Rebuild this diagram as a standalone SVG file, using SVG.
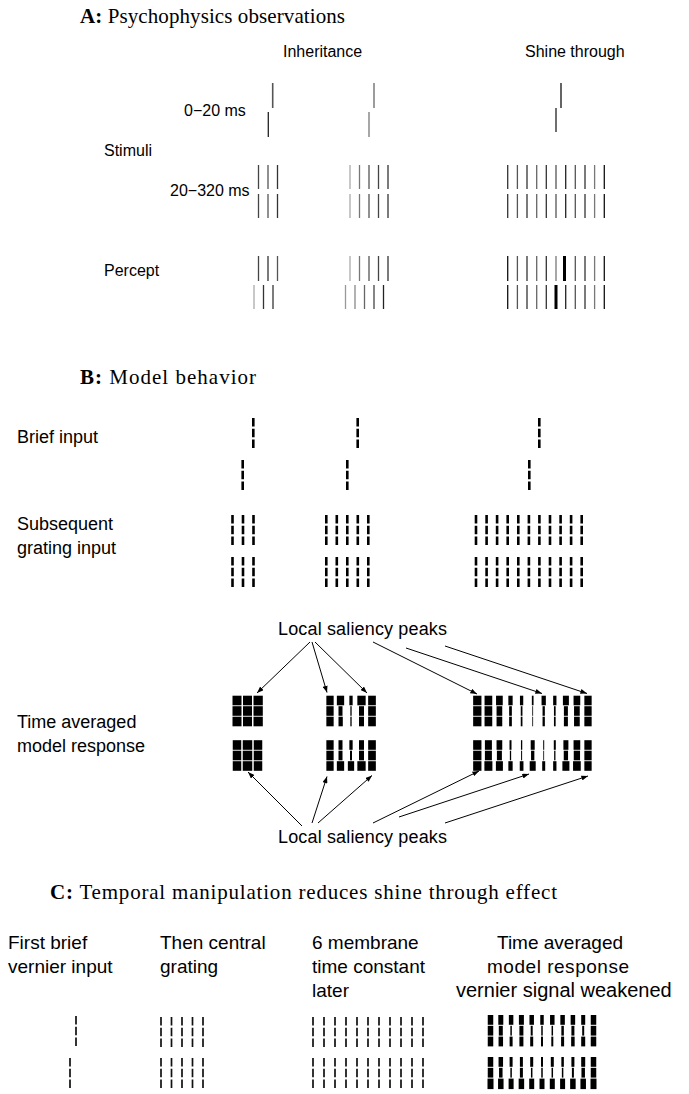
<svg xmlns="http://www.w3.org/2000/svg" xmlns:xlink="http://www.w3.org/1999/xlink" width="689" height="1094" viewBox="0 0 689 1094">
<style>
.serif{font-family:"Liberation Serif","Times New Roman",serif;font-size:21px;fill:#000}
.sa{font-family:"Liberation Sans",Arial,sans-serif;font-size:16px;fill:#000}
.sb{font-family:"Liberation Sans",Arial,sans-serif;font-size:18px;fill:#000}
.sc{font-family:"Liberation Sans",Arial,sans-serif;font-size:19px;fill:#000}
.ln{stroke-width:1.3;fill:none}
.db{stroke:#000;stroke-width:2.6;stroke-dasharray:8.6 2.1}
.dc{stroke:#111;stroke-width:1.7;stroke-dasharray:8.6 2.1}
.k rect{fill:#000}
.arr{stroke:#000;stroke-width:1;fill:none;marker-end:url(#ah)}
</style>
<defs>
<marker id="ah" viewBox="0 0 8 6" refX="8" refY="3" markerWidth="7" markerHeight="5" markerUnits="userSpaceOnUse" orient="auto"><path d="M0,0 L8,3 L0,6 z" fill="#000"/></marker>
<line id="db" x1="0" y1="0" x2="0" y2="30" class="db"/>
<line id="dc" x1="0" y1="0" x2="0" y2="30" class="dc"/>
</defs>
<rect width="689" height="1094" fill="#fff"/>

<!-- Section A -->
<g id="title-a"><text class="serif" x="80" y="23" textLength="265"><tspan font-weight="bold">A:</tspan> Psychophysics observations</text></g>
<g id="label-inheritance"><text class="sa" x="283" y="57">Inheritance</text></g>
<g id="label-shine"><text class="sa" x="525" y="57">Shine through</text></g>
<g id="label-0-20"><text class="sa" x="184" y="116">0−20 ms</text></g>
<g id="label-stimuli"><text class="sa" x="104" y="156">Stimuli</text></g>
<g id="label-20-320"><text class="sa" x="170" y="196">20−320 ms</text></g>
<g id="label-percept"><text class="sa" x="104" y="276">Percept</text></g>

<g id="a-stim-inh1" class="ln">
<line x1="272.7" y1="83" x2="272.7" y2="108" stroke="#555" stroke-width="1.6"/>
<line x1="268.3" y1="112" x2="268.3" y2="137" stroke="#222"/>
<line x1="258.5" y1="165" x2="258.5" y2="189" stroke="#444"/><line x1="268" y1="165" x2="268" y2="189" stroke="#555"/><line x1="277.5" y1="165" x2="277.5" y2="189" stroke="#333"/>
<line x1="258.5" y1="194" x2="258.5" y2="218" stroke="#444"/><line x1="268" y1="194" x2="268" y2="218" stroke="#555"/><line x1="277.5" y1="194" x2="277.5" y2="218" stroke="#333"/>
</g>
<g id="a-stim-inh2" class="ln">
<line x1="374" y1="83" x2="374" y2="108" stroke="#666"/>
<line x1="369" y1="112" x2="369" y2="137" stroke="#777"/>
<line x1="350" y1="165" x2="350" y2="189" stroke="#aaa"/><line x1="359.5" y1="165" x2="359.5" y2="189" stroke="#777"/><line x1="369" y1="165" x2="369" y2="189" stroke="#555"/><line x1="378.5" y1="165" x2="378.5" y2="189" stroke="#444"/><line x1="388" y1="165" x2="388" y2="189" stroke="#333"/>
<line x1="350" y1="194" x2="350" y2="218" stroke="#aaa"/><line x1="359.5" y1="194" x2="359.5" y2="218" stroke="#777"/><line x1="369" y1="194" x2="369" y2="218" stroke="#555"/><line x1="378.5" y1="194" x2="378.5" y2="218" stroke="#444"/><line x1="388" y1="194" x2="388" y2="218" stroke="#333"/>
</g>
<g id="a-stim-shine" class="ln">
<line x1="561" y1="83" x2="561" y2="108" stroke="#111"/>
<line x1="556" y1="108" x2="556" y2="132" stroke="#222"/>
<g stroke="#333">
<line x1="507.7" y1="165" x2="507.7" y2="189"/><line x1="517.4" y1="165" x2="517.4" y2="189" stroke="#555"/><line x1="527" y1="165" x2="527" y2="189"/><line x1="536.7" y1="165" x2="536.7" y2="189" stroke="#666"/><line x1="546.3" y1="165" x2="546.3" y2="189"/><line x1="556" y1="165" x2="556" y2="189" stroke="#555"/><line x1="565.7" y1="165" x2="565.7" y2="189" stroke="#222"/><line x1="575.3" y1="165" x2="575.3" y2="189" stroke="#555"/><line x1="585" y1="165" x2="585" y2="189"/><line x1="594.6" y1="165" x2="594.6" y2="189" stroke="#777"/><line x1="604.3" y1="165" x2="604.3" y2="189" stroke="#111"/>
<line x1="507.7" y1="194" x2="507.7" y2="218"/><line x1="517.4" y1="194" x2="517.4" y2="218" stroke="#555"/><line x1="527" y1="194" x2="527" y2="218"/><line x1="536.7" y1="194" x2="536.7" y2="218" stroke="#666"/><line x1="546.3" y1="194" x2="546.3" y2="218"/><line x1="556" y1="194" x2="556" y2="218" stroke="#555"/><line x1="565.7" y1="194" x2="565.7" y2="218" stroke="#222"/><line x1="575.3" y1="194" x2="575.3" y2="218" stroke="#555"/><line x1="585" y1="194" x2="585" y2="218"/><line x1="594.6" y1="194" x2="594.6" y2="218" stroke="#777"/><line x1="604.3" y1="194" x2="604.3" y2="218" stroke="#111"/>
</g>
</g>

<g id="a-perc-inh1" class="ln">
<line x1="258.5" y1="256" x2="258.5" y2="281" stroke="#444"/><line x1="268" y1="256" x2="268" y2="281" stroke="#333"/><line x1="277.5" y1="256" x2="277.5" y2="281" stroke="#555"/>
<line x1="254" y1="285" x2="254" y2="309" stroke="#aaa"/><line x1="263.5" y1="285" x2="263.5" y2="309" stroke="#333"/><line x1="273" y1="285" x2="273" y2="309" stroke="#666" stroke-width="1.7"/>
</g>
<g id="a-perc-inh2" class="ln">
<line x1="350" y1="256" x2="350" y2="281" stroke="#aaa"/><line x1="359.5" y1="256" x2="359.5" y2="281" stroke="#777"/><line x1="369" y1="256" x2="369" y2="281" stroke="#555"/><line x1="378.5" y1="256" x2="378.5" y2="281" stroke="#444"/><line x1="388" y1="256" x2="388" y2="281" stroke="#333"/>
<line x1="345.5" y1="285" x2="345.5" y2="309" stroke="#999"/><line x1="355" y1="285" x2="355" y2="309" stroke="#888"/><line x1="364.5" y1="285" x2="364.5" y2="309" stroke="#666"/><line x1="374" y1="285" x2="374" y2="309" stroke="#444"/><line x1="383.5" y1="285" x2="383.5" y2="309" stroke="#222"/>
</g>
<g id="a-perc-shine" class="ln">
<g stroke="#333">
<line x1="507.7" y1="256" x2="507.7" y2="281" stroke="#111"/><line x1="517.4" y1="256" x2="517.4" y2="281" stroke="#555"/><line x1="527" y1="256" x2="527" y2="281"/><line x1="536.7" y1="256" x2="536.7" y2="281" stroke="#666"/><line x1="546.3" y1="256" x2="546.3" y2="281"/><line x1="556" y1="256" x2="556" y2="281" stroke="#777"/><line x1="564.5" y1="256" x2="564.5" y2="281" stroke="#000" stroke-width="3"/><line x1="575.3" y1="256" x2="575.3" y2="281" stroke="#555"/><line x1="585" y1="256" x2="585" y2="281"/><line x1="594.6" y1="256" x2="594.6" y2="281" stroke="#777"/><line x1="604.3" y1="256" x2="604.3" y2="281" stroke="#111"/>
<line x1="507.7" y1="285" x2="507.7" y2="309" stroke="#111"/><line x1="517.4" y1="285" x2="517.4" y2="309" stroke="#555"/><line x1="527" y1="285" x2="527" y2="309"/><line x1="536.7" y1="285" x2="536.7" y2="309" stroke="#666"/><line x1="546.3" y1="285" x2="546.3" y2="309"/><line x1="556" y1="285" x2="556" y2="309" stroke="#000" stroke-width="3"/><line x1="565.7" y1="285" x2="565.7" y2="309" stroke="#222"/><line x1="575.3" y1="285" x2="575.3" y2="309" stroke="#555"/><line x1="585" y1="285" x2="585" y2="309"/><line x1="594.6" y1="285" x2="594.6" y2="309" stroke="#777"/><line x1="604.3" y1="285" x2="604.3" y2="309" stroke="#111"/>
</g>
</g>

<!-- Section B -->
<g id="title-b"><text class="serif" x="80" y="384" textLength="176"><tspan font-weight="bold">B:</tspan> Model behavior</text></g>
<g id="label-brief"><text class="sb" x="17" y="443">Brief input</text></g>
<g id="label-subsequent"><text class="sb" x="17" y="530">Subsequent</text><text class="sb" x="17" y="554">grating input</text></g>
<g id="label-timeavg-b"><text class="sb" x="17" y="728">Time averaged</text><text class="sb" x="17" y="752">model response</text></g>

<g id="b-in-1">
<use href="#db" x="253.3" y="418"/><use href="#db" x="242.7" y="460"/>
<use href="#db" x="232.5" y="515"/><use href="#db" x="243" y="515"/><use href="#db" x="253.5" y="515"/>
<use href="#db" x="232.5" y="557"/><use href="#db" x="243" y="557"/><use href="#db" x="253.5" y="557"/>
</g>
<g id="b-in-2">
<use href="#db" x="357.7" y="418"/><use href="#db" x="347.3" y="460"/>
<use href="#db" x="326.3" y="515"/><use href="#db" x="336.8" y="515"/><use href="#db" x="347.3" y="515"/><use href="#db" x="357.8" y="515"/><use href="#db" x="368.3" y="515"/>
<use href="#db" x="326.3" y="557"/><use href="#db" x="336.8" y="557"/><use href="#db" x="347.3" y="557"/><use href="#db" x="357.8" y="557"/><use href="#db" x="368.3" y="557"/>
</g>
<g id="b-in-3">
<use href="#db" x="539.3" y="418"/><use href="#db" x="529.3" y="460"/>
<use href="#db" x="476" y="515"/><use href="#db" x="486.6" y="515"/><use href="#db" x="497.1" y="515"/><use href="#db" x="507.7" y="515"/><use href="#db" x="518.3" y="515"/><use href="#db" x="528.9" y="515"/><use href="#db" x="539.4" y="515"/><use href="#db" x="550" y="515"/><use href="#db" x="560.6" y="515"/><use href="#db" x="571.1" y="515"/><use href="#db" x="581.7" y="515"/>
<use href="#db" x="476" y="557"/><use href="#db" x="486.6" y="557"/><use href="#db" x="497.1" y="557"/><use href="#db" x="507.7" y="557"/><use href="#db" x="518.3" y="557"/><use href="#db" x="528.9" y="557"/><use href="#db" x="539.4" y="557"/><use href="#db" x="550" y="557"/><use href="#db" x="560.6" y="557"/><use href="#db" x="571.1" y="557"/><use href="#db" x="581.7" y="557"/>
</g>

<g id="b-resp-1" class="k">
<g transform="translate(0,695.7)"><rect x="232.5" width="9" height="9.6"/><rect x="243" width="9" height="9.6"/><rect x="253.5" width="9.3" height="9.6"/></g>
<g transform="translate(0,706.2)"><rect x="232.5" width="9" height="9.6"/><rect x="243" width="9" height="9.6"/><rect x="253.5" width="9.3" height="9.6"/></g>
<g transform="translate(0,716.7)"><rect x="232.5" width="9" height="9.6"/><rect x="243" width="9" height="9.6"/><rect x="253.5" width="9.3" height="9.6"/></g>
<g transform="translate(0,740.2)"><rect x="232.75" width="8.5" height="9.6"/><rect x="242.75" width="9.5" height="9.6"/><rect x="253.75" width="8.5" height="9.6"/></g>
<g transform="translate(0,750.7)"><rect x="232.75" width="8.5" height="9.6"/><rect x="242.75" width="9.5" height="9.6"/><rect x="253.75" width="8.5" height="9.6"/></g>
<g transform="translate(0,761.2)"><rect x="232.75" width="8.5" height="9.6"/><rect x="242.75" width="9.5" height="9.6"/><rect x="253.75" width="8.5" height="9.6"/></g>
</g>
<g id="b-resp-2" class="k">
<g transform="translate(0,695.7)"><rect x="326.35" width="7.3" height="9.6"/><rect x="336.85" width="7.3" height="9.6"/><rect x="349.35" width="3.3" height="9.6"/><rect x="357.35" width="8.3" height="9.6"/><rect x="368.15" width="7.7" height="9.6"/></g>
<g transform="translate(0,706.2)"><rect x="326.35" width="7.3" height="9.6"/><rect x="338.5" width="4" height="9.6"/><rect x="350.35" width="1.3" height="9.6"/><rect x="359" width="5" height="9.6"/><rect x="368.15" width="7.7" height="9.6"/></g>
<g transform="translate(0,716.7)"><rect x="326.35" width="7.3" height="9.6"/><rect x="338.5" width="4.3" height="9.6"/><rect x="350.35" width="1.3" height="9.6"/><rect x="359" width="5" height="9.6"/><rect x="368.15" width="7.7" height="9.6"/></g>
<g transform="translate(0,740.2)"><rect x="326.35" width="7.3" height="9.6"/><rect x="338.5" width="4" height="9.6"/><rect x="349.35" width="3.3" height="9.6"/><rect x="359" width="5" height="9.6"/><rect x="368.15" width="7.7" height="9.6"/></g>
<g transform="translate(0,750.7)"><rect x="326.35" width="7.3" height="9.6"/><rect x="338.5" width="4" height="9.6"/><rect x="350" width="2" height="9.6"/><rect x="359" width="5" height="9.6"/><rect x="368.15" width="7.7" height="9.6"/></g>
<g transform="translate(0,761.2)"><rect x="326.35" width="7.3" height="9.6"/><rect x="336.85" width="7.3" height="9.6"/><rect x="347.85" width="6.3" height="9.6"/><rect x="357.35" width="8.3" height="9.6"/><rect x="368.15" width="7.7" height="9.6"/></g>
</g>
<g id="b-resp-3" class="k">
<g transform="translate(0,695.7)"><rect x="473.15" width="8.3" height="9.6"/><rect x="484.55" width="7.7" height="9.6"/><rect x="496.05" width="6.7" height="9.6"/><rect x="508.35" width="4.3" height="9.6"/><rect x="519.95" width="3.3" height="9.6"/><rect x="531.85" width="1.7" height="9.6"/><rect x="541.55" width="4.3" height="9.6"/><rect x="553.15" width="3.3" height="9.6"/><rect x="562.9" width="6" height="9.6"/><rect x="573.55" width="6.7" height="9.6"/><rect x="584.35" width="7.3" height="9.6"/></g>
<g transform="translate(0,706.2)"><rect x="473.15" width="8.3" height="9.6"/><rect x="484.55" width="7.7" height="9.6"/><rect x="496.55" width="5.7" height="9.6"/><rect x="509.15" width="2.7" height="9.6"/><rect x="520.75" width="1.7" height="9.6"/><rect x="532.3" width="0.8" height="9.6"/><rect x="542.55" width="2.3" height="9.6"/><rect x="553.95" width="1.7" height="9.6"/><rect x="563.9" width="4" height="9.6"/><rect x="574.05" width="5.7" height="9.6"/><rect x="584.35" width="7.3" height="9.6"/></g>
<g transform="translate(0,716.7)"><rect x="473.15" width="8.3" height="9.6"/><rect x="484.55" width="7.7" height="9.6"/><rect x="496.55" width="5.7" height="9.6"/><rect x="509.15" width="2.7" height="9.6"/><rect x="520.75" width="1.7" height="9.6"/><rect x="532.3" width="0.8" height="9.6"/><rect x="542.55" width="2.3" height="9.6"/><rect x="553.95" width="1.7" height="9.6"/><rect x="563.9" width="4" height="9.6"/><rect x="574.05" width="5.7" height="9.6"/><rect x="584.35" width="7.3" height="9.6"/></g>
<g transform="translate(0,740.2)"><rect x="473.15" width="8.3" height="9.6"/><rect x="484.9" width="7" height="9.6"/><rect x="496.55" width="5.7" height="9.6"/><rect x="509.5" width="2" height="9.6"/><rect x="520.95" width="1.3" height="9.6"/><rect x="530.7" width="4" height="9.6"/><rect x="543.2" width="1" height="9.6"/><rect x="553.8" width="2" height="9.6"/><rect x="563.4" width="5" height="9.6"/><rect x="573.55" width="6.7" height="9.6"/><rect x="584.35" width="7.3" height="9.6"/></g>
<g transform="translate(0,750.7)"><rect x="473.15" width="8.3" height="9.6"/><rect x="484.9" width="7" height="9.6"/><rect x="496.9" width="5" height="9.6"/><rect x="509.85" width="1.3" height="9.6"/><rect x="521.1" width="1" height="9.6"/><rect x="531.05" width="3.3" height="9.6"/><rect x="543.3" width="0.8" height="9.6"/><rect x="554.15" width="1.3" height="9.6"/><rect x="563.75" width="4.3" height="9.6"/><rect x="573.75" width="6.3" height="9.6"/><rect x="584.35" width="7.3" height="9.6"/></g>
<g transform="translate(0,761.2)"><rect x="473.15" width="8.3" height="9.6"/><rect x="484.4" width="8" height="9.6"/><rect x="495.9" width="7" height="9.6"/><rect x="508.35" width="4.3" height="9.6"/><rect x="519.75" width="3.7" height="9.6"/><rect x="529.7" width="6" height="9.6"/><rect x="542.2" width="3" height="9.6"/><rect x="553.15" width="3.3" height="9.6"/><rect x="562.4" width="7" height="9.6"/><rect x="573.05" width="7.7" height="9.6"/><rect x="584.35" width="7.3" height="9.6"/></g>
</g>

<g id="label-peaks-top"><text class="sb" x="278" y="635" textLength="169">Local saliency peaks</text></g>
<g id="label-peaks-bottom"><text class="sb" x="278" y="843" textLength="169">Local saliency peaks</text></g>

<g id="connectors">
<line class="arr" x1="310" y1="642" x2="257" y2="693"/>
<line class="arr" x1="312" y1="642" x2="327" y2="692.5"/>
<line class="arr" x1="315" y1="642" x2="367" y2="693"/>
<line class="arr" x1="373" y1="642" x2="477" y2="694"/>
<line class="arr" x1="406" y1="648" x2="542" y2="693.5"/>
<line class="arr" x1="445" y1="646" x2="587" y2="693.5"/>
<line class="arr" x1="302" y1="826" x2="248" y2="772"/>
<line class="arr" x1="312" y1="823" x2="327" y2="776.5"/>
<line class="arr" x1="318" y1="823" x2="372" y2="775.5"/>
<line class="arr" x1="373" y1="823" x2="479" y2="771"/>
<line class="arr" x1="399" y1="817" x2="529" y2="774"/>
<line class="arr" x1="445" y1="823" x2="588" y2="776"/>
</g>

<!-- Section C -->
<g id="title-c"><text class="serif" x="50" y="899" textLength="507"><tspan font-weight="bold">C:</tspan> Temporal manipulation reduces shine through effect</text></g>
<g id="label-c1"><text class="sc" x="8" y="949">First brief</text><text class="sc" x="8" y="973">vernier input</text></g>
<g id="label-c2"><text class="sc" x="160" y="949">Then central</text><text class="sc" x="160" y="973">grating</text></g>
<g id="label-c3"><text class="sc" x="312" y="949">6 membrane</text><text class="sc" x="312" y="973">time constant</text><text class="sc" x="312" y="997">later</text></g>
<g id="label-c4"><text class="sc" x="497" y="949">Time averaged</text><text class="sc" x="487" y="973" textLength="142">model response</text><text class="sc" x="456" y="997" style="font-size:20px">vernier signal weakened</text></g>

<g id="c-in-1">
<use href="#dc" x="76" y="1016"/><use href="#dc" x="70" y="1058"/>
</g>
<g id="c-in-2">
<use href="#dc" x="161" y="1017"/><use href="#dc" x="171.5" y="1017"/><use href="#dc" x="182" y="1017"/><use href="#dc" x="192.5" y="1017"/><use href="#dc" x="203" y="1017"/>
<use href="#dc" x="161" y="1058"/><use href="#dc" x="171.5" y="1058"/><use href="#dc" x="182" y="1058"/><use href="#dc" x="192.5" y="1058"/><use href="#dc" x="203" y="1058"/>
</g>
<g id="c-in-3">
<use href="#dc" x="313" y="1017"/><use href="#dc" x="324" y="1017"/><use href="#dc" x="335" y="1017"/><use href="#dc" x="346" y="1017"/><use href="#dc" x="357" y="1017"/><use href="#dc" x="368" y="1017"/><use href="#dc" x="379" y="1017"/><use href="#dc" x="390" y="1017"/><use href="#dc" x="401" y="1017"/><use href="#dc" x="412" y="1017"/><use href="#dc" x="423" y="1017"/>
<use href="#dc" x="313" y="1058"/><use href="#dc" x="324" y="1058"/><use href="#dc" x="335" y="1058"/><use href="#dc" x="346" y="1058"/><use href="#dc" x="357" y="1058"/><use href="#dc" x="368" y="1058"/><use href="#dc" x="379" y="1058"/><use href="#dc" x="390" y="1058"/><use href="#dc" x="401" y="1058"/><use href="#dc" x="412" y="1058"/><use href="#dc" x="423" y="1058"/>
</g>
<g id="c-resp" class="k">
<g transform="translate(0,1015)"><rect x="487.75" width="5.5" height="9.8"/><rect x="498.3" width="5" height="9.8"/><rect x="508.85" width="4.5" height="9.8"/><rect x="518.9" width="5" height="9.8"/><rect x="529.45" width="4.5" height="9.8"/><rect x="540.25" width="3.5" height="9.8"/><rect x="550.05" width="4.5" height="9.8"/><rect x="560.35" width="4.5" height="9.8"/><rect x="570.65" width="4.5" height="9.8"/><rect x="581.2" width="4" height="9.8"/><rect x="590.75" width="5.5" height="9.8"/></g>
<g transform="translate(0,1025.8)"><rect x="487.75" width="5.5" height="9.8"/><rect x="498.8" width="4" height="9.8"/><rect x="510.35" width="1.5" height="9.8"/><rect x="519.4" width="4" height="9.8"/><rect x="530.7" width="2" height="9.8"/><rect x="541.25" width="1.5" height="9.8"/><rect x="551.55" width="1.5" height="9.8"/><rect x="561.35" width="2.5" height="9.8"/><rect x="571.4" width="3" height="9.8"/><rect x="582.2" width="2" height="9.8"/><rect x="590.75" width="5.5" height="9.8"/></g>
<g transform="translate(0,1036.6)"><rect x="487.75" width="5.5" height="9.8"/><rect x="498.55" width="4.5" height="9.8"/><rect x="509.6" width="3" height="9.8"/><rect x="519.4" width="4" height="9.8"/><rect x="530.2" width="3" height="9.8"/><rect x="541" width="2" height="9.8"/><rect x="551.3" width="2" height="9.8"/><rect x="561.1" width="3" height="9.8"/><rect x="571.15" width="3.5" height="9.8"/><rect x="581.2" width="4" height="9.8"/><rect x="590.75" width="5.5" height="9.8"/></g>
<g transform="translate(0,1057)"><rect x="487.75" width="5.5" height="9.8"/><rect x="498.55" width="4.5" height="9.8"/><rect x="509.6" width="3" height="9.8"/><rect x="519.9" width="3" height="9.8"/><rect x="530.2" width="3" height="9.8"/><rect x="541" width="2" height="9.8"/><rect x="550.8" width="3" height="9.8"/><rect x="561.35" width="2.5" height="9.8"/><rect x="571.4" width="3" height="9.8"/><rect x="581.2" width="4" height="9.8"/><rect x="590.75" width="5.5" height="9.8"/></g>
<g transform="translate(0,1067.8)"><rect x="487.75" width="5.5" height="9.8"/><rect x="499.05" width="3.5" height="9.8"/><rect x="510.35" width="1.5" height="9.8"/><rect x="519.9" width="3" height="9.8"/><rect x="530.95" width="1.5" height="9.8"/><rect x="541.25" width="1.5" height="9.8"/><rect x="551.55" width="1.5" height="9.8"/><rect x="561.85" width="1.5" height="9.8"/><rect x="571.9" width="2" height="9.8"/><rect x="581.45" width="3.5" height="9.8"/><rect x="590.75" width="5.5" height="9.8"/></g>
<g transform="translate(0,1078.6)"><rect x="487.5" width="6" height="10.5"/><rect x="498.05" width="5.5" height="10.5"/><rect x="508.6" width="5" height="10.5"/><rect x="518.65" width="5.5" height="10.5"/><rect x="529.2" width="5" height="10.5"/><rect x="539.5" width="5" height="10.5"/><rect x="549.8" width="5" height="10.5"/><rect x="560.1" width="5" height="10.5"/><rect x="570.15" width="5.5" height="10.5"/><rect x="580.45" width="5.5" height="10.5"/><rect x="590.5" width="6" height="10.5"/></g>
</g>
</svg>
